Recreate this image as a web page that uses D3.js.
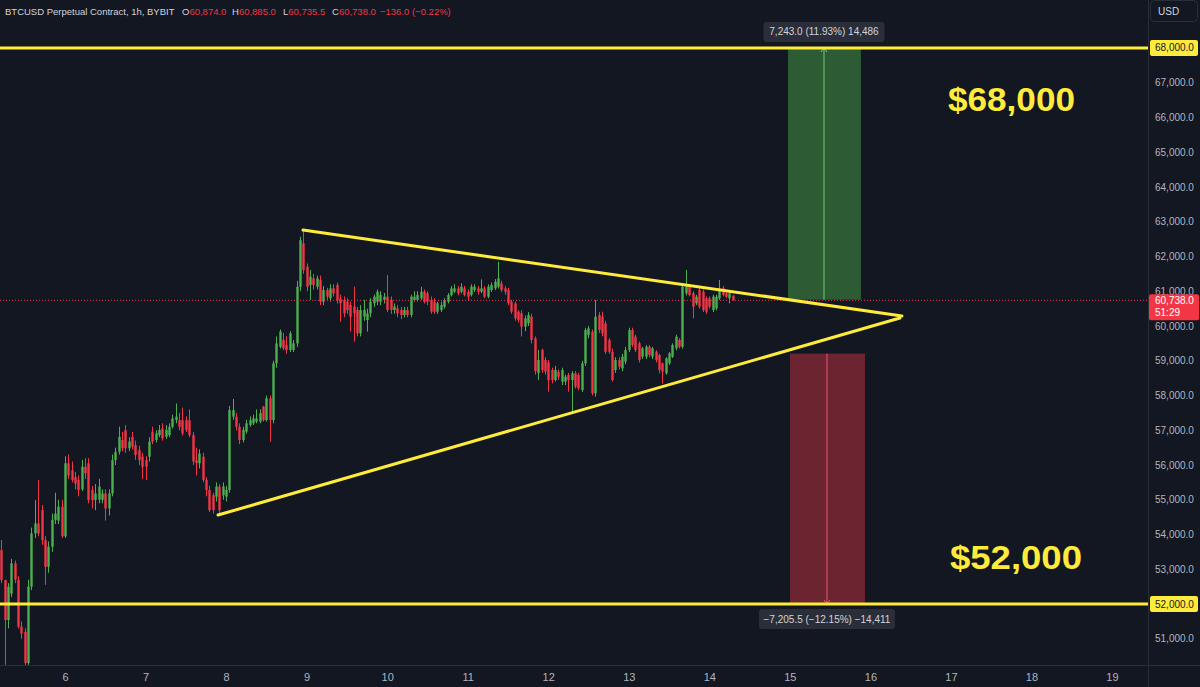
<!DOCTYPE html>
<html><head><meta charset="utf-8">
<script src="https://cdn.jsdelivr.net/npm/d3@7"></script>
<style>html,body{margin:0;padding:0;background:#131722;overflow:hidden}</style>
</head><body><svg id="c" width="1200" height="687"></svg>
<script>
// ---------------- DATA ----------------
const startDay = 5, startHour = 5; // first candle: day 5, 05:00, hourly
const ohlc = [
[53550,53840,52600,52690],[52690,52700,50250,51540],[51540,52600,51300,52500],[52300,53300,52200,53170],
[53170,53250,52600,52700],[52690,52800,51300,51350],[51350,51500,51000,51150],[51200,51300,50250,50300],
[50300,52700,50250,52500],[52500,54200,52400,54030],[54030,54990,53900,54320],[54320,55570,53950,54030],
[54700,54850,53700,53840],[53840,53950,52550,53070],[53070,53800,52900,53650],[53650,54600,53500,54420],
[54420,55200,54300,54600],[54400,55000,54300,54800],[54800,55000,53900,53950],[53950,56250,53900,56050],
[56050,56300,55600,55700],[55850,56100,55500,55570],[55650,55800,55300,55470],[55570,55700,55100,55280],
[55300,56150,55250,55950],[55950,56200,55600,55760],[56050,56200,54900,54990],[55280,55400,54750,54990],
[54990,55450,54700,55180],[55000,55600,54900,55380],[55000,55300,54900,55180],[55180,55300,54400,54750],
[54750,55300,54550,55180],[55180,56300,55100,56140],[56140,56500,56000,56380],[56380,57100,56300,56810],
[56720,56950,56400,56480],[57000,57150,56350,56480],[56480,56800,56400,56670],[56810,56950,56450,56530],
[56570,56700,56150,56290],[56430,56550,56000,56140],[56240,56350,55600,55950],[56140,56250,55570,55950],
[56240,56800,56100,56670],[56960,57100,56600,56670],[56720,57000,56650,56910],[56860,57150,56800,57010],
[57050,57200,56700,56770],[56810,57150,56750,57010],[56860,57200,56800,57100],[57100,57450,57050,57340],
[57290,57770,57200,57390],[57290,57500,57000,57100],[57290,57650,56850,56910],[57290,57400,56950,57010],
[57290,57600,56800,56860],[56860,56950,56000,56100],[56140,56500,55700,56050],[56050,56450,55900,56330],
[56240,56350,55500,55570],[55570,55650,55100,55280],[55280,55400,54650,54700],[55130,55200,54600,54700],
[55090,55500,54950,55380],[55380,55450,54560,54700],[55130,55500,55000,55380],[55090,55400,54950,55280],
[55280,57700,55200,57580],[57390,57900,57300,57580],[57390,57500,57000,57100],[57100,57200,56600,56720],
[56720,57100,56650,57010],[56960,57300,56900,57200],[57150,57400,57100,57290],[57200,57450,57150,57340],
[57250,57600,57200,57340],[57250,57600,57200,57490],[57680,57700,57250,57290],[57290,58000,57250,57920],
[57920,58000,56670,57290],[57290,59000,57200,58925],[58925,59700,58800,59500],[59400,59900,59350,59840],
[59600,59800,59300,59360],[59450,59700,59200,59310],[59310,59850,59250,59790],[59310,59600,59250,59500],
[59500,61300,59400,61130],[61130,62570,61000,62470],[62380,62760,61500,61610],[61707,61800,61000,61131],
[61179,61611,60748,61420],[61371,61500,61050,61179],[61131,61450,61050,61371],[61323,61450,60600,60700],
[60700,61150,60600,61035],[61035,61100,60750,60844],[60796,61200,60700,61083],[61083,61200,60850,60940],
[61179,61250,60650,60748],[60796,60900,60120,60652],[60748,60850,60250,60364],[60700,60800,60350,60460],
[60604,60700,59840,60268],[60556,61131,59550,60364],[60460,60550,59700,59788],[59788,60600,59700,60460],
[60268,60750,60150,60460],[60172,60500,59840,60364],[60364,60800,60250,60700],[60652,60900,60550,60844],
[60700,61050,60600,60987],[60700,61000,60600,60892],[60748,60950,60650,60844],[60844,61467,60400,60460],
[60748,60850,60350,60460],[60460,60650,60350,60556],[60508,60600,60250,60364],[60460,60550,60200,60316],
[60316,60550,60250,60460],[60460,60550,60250,60316],[60316,60900,60250,60844],[60748,61000,60700,60844],
[60748,61000,60700,60892],[60796,61131,60750,60987],[60987,61050,60650,60700],[60940,61000,60600,60700],
[60748,60850,60350,60412],[60700,60800,60350,60412],[60412,60700,60350,60652],[60460,60700,60400,60604],
[60556,60800,60500,60748],[60700,60950,60650,60892],[60892,61150,60850,61083],[60987,61200,60950,61083],
[61083,61150,60880,60940],[60987,61230,60940,61131],[61083,61150,60850,60892],[60987,61050,60750,60844],
[60892,61200,60850,61131],[61035,61200,60980,61131],[61083,61150,60900,60987],[60987,61340,60950,61083],
[61083,61150,60800,60844],[60844,61200,60800,61131],[61035,61250,60980,61179],[61083,61350,61030,61275],
[61131,61850,61080,61371],[61227,61300,60980,61035],[61083,61150,60900,60987],[61035,61100,60600,60652],
[60700,60750,60350,60412],[60652,60700,60150,60220],[60412,60450,60100,60172],[60364,60450,59700,59980],
[59980,60300,59850,60220],[60076,60400,60000,60316],[60268,60350,59500,59597],[59644,59700,58600,58700],
[58650,59309,58450,59021],[59309,59350,58650,58733],[59021,59100,58600,58685],[58950,59021,58109,58445],
[58733,58800,58350,58445],[58445,58850,58400,58733],[58685,58750,58450,58541],[58397,58800,58300,58733],
[58397,58600,58300,58541],[58589,58650,58109,58445],[58445,58700,57534,58637],[58637,58700,58200,58253],
[58589,58650,58150,58205],[58157,59000,58100,58925],[58925,59950,58850,59884],[59740,60000,59650,59932],
[59836,59900,58000,58061],[58061,60747,57965,60268],[60316,60400,59800,59884],[60268,60412,59700,59788],
[60076,60150,59200,59260],[59596,59650,59200,59260],[59260,59350,58400,58445],[58733,59100,58650,59021],
[59021,59100,58750,58829],[58781,59200,58700,59117],[58973,59400,58900,59308],[59308,59950,59250,59884],
[59884,59950,59400,59453],[59693,59750,59250,59309],[59501,59550,58950,59021],[59117,59400,59050,59357],
[59117,59450,59050,59405],[59405,59450,59100,59165],[59117,59400,59050,59357],[59261,59300,58950,59021],
[59165,59200,58637,58733],[58925,58950,58349,58685],[58637,59100,58600,59069],[58925,59250,58880,59213],
[59117,59500,59080,59453],[59357,59750,59300,59693],[59597,59650,59350,59405],[59405,61200,59350,61132],
[60940,61611,60880,61132],[61132,61200,60850,60892],[60940,61000,60220,60556],[60652,60900,60600,60844],
[61036,61100,60500,60556],[60988,61050,60400,60460],[60796,60850,60350,60412],[60796,60850,60500,60556],
[60460,60900,60400,60844],[60508,60900,60450,60844],[60796,61323,60750,61036],[61084,61150,60850,60892],
[60940,61000,60800,60844],[60796,61000,60652,60940],[60874,60885,60735.5,60738]
];
const dayTicks = [6,7,8,9,10,11,12,13,14,15,16,17,18,19];
const priceTicks = [51000,52000,53000,54000,55000,56000,57000,58000,59000,60000,61000,62000,63000,64000,65000,66000,67000,68000];
const levels = [68000, 52000];
const levelTexts = ["$68,000", "$52,000"];
const upperTrend = [[8.955, 62760], [16.392, 60290]];
const lowerTrend = [[7.900, 54560], [16.367, 60230]];
const longZone  = {t0: 14.977, t1: 15.883, pLow: 60757, pHigh: 68000, tMid: 15.424};
const shortZone = {t0: 15.002, t1: 15.933, pLow: 52000, pHigh: 59205.5, tMid: 15.461};
const longText  = "7,243.0 (11.93%) 14,486";
const shortText = "\u22127,205.5 (\u221212.15%) \u221214,411";
const lastPrice = 60738, countdown = "51:29";
const headerTitle = "BTCUSD Perpetual Contract, 1h, BYBIT";
const headerVals = [["O","60,874.0"],["H","60,885.0"],["L","60,735.5"],["C","60,738.0"]];
const headerChange = "\u2212136.0 (\u22120.22%)";

// ---------------- CHART ----------------
const W = 1200, H = 687, PW = 1148, PH = 665;
const UP = "#4caf50", DN = "#f23645", YEL = "#ffeb3b", TXT = "#b2b5be";
const FONT = "'Liberation Sans', Arial, sans-serif";
const svg = d3.select("#c");
svg.append("rect").attr("width", W).attr("height", H).attr("fill", "#131722");

const x = d3.scaleLinear().domain([5.193, 19.447]).range([0, PW]);
const y = d3.scaleLinear().domain([50245, 69381]).range([PH, 0]);
const tOf = i => startDay + (startHour + i) / 24;

svg.append("defs").append("clipPath").attr("id", "clip")
  .append("rect").attr("width", PW).attr("height", PH);
const plot = svg.append("g").attr("clip-path", "url(#clip)");

// candles
const cg = plot.append("g");
const bw = 2.4;
ohlc.forEach((d, i) => {
  const [o, h, l, c] = d;
  const col = c >= o ? UP : DN;
  const cx = Math.round(x(tOf(i))) + 0.5;
  cg.append("line").attr("x1", cx).attr("x2", cx).attr("y1", y(h)).attr("y2", y(l))
    .attr("stroke", col).attr("stroke-width", 1);
  const yt = y(Math.max(o, c)), yb = y(Math.min(o, c));
  cg.append("rect").attr("x", cx - bw / 2).attr("width", bw)
    .attr("y", yt).attr("height", Math.max(1, yb - yt)).attr("fill", col);
});

// last price dotted line
plot.append("line").attr("x1", 0).attr("x2", PW).attr("y1", y(lastPrice)).attr("y2", y(lastPrice))
  .attr("stroke", DN).attr("stroke-width", 1).attr("stroke-dasharray", "1,2");

// position zones
function zone(z, fill, lineCol, up) {
  plot.append("rect").attr("x", x(z.t0)).attr("width", x(z.t1) - x(z.t0))
    .attr("y", y(z.pHigh)).attr("height", y(z.pLow) - y(z.pHigh)).attr("fill", fill);
  const mx = x(z.tMid);
  const yS = up ? y(z.pLow) : y(z.pHigh), yE = up ? y(z.pHigh) : y(z.pLow);
  plot.append("line").attr("x1", mx).attr("x2", mx).attr("y1", yS).attr("y2", yE)
    .attr("stroke", lineCol).attr("stroke-width", 1);
  const d = up ? 1 : -1;
  plot.append("path").attr("d", `M${mx - 3},${yE + 4 * d}L${mx},${yE}L${mx + 3},${yE + 4 * d}`)
    .attr("fill", "none").attr("stroke", lineCol).attr("stroke-width", 1);
}
zone(longZone, "#2c5b34", "#6ccf74", true);
zone(shortZone, "#6b2430", "#f0566a", false);

// horizontal levels
levels.forEach(p => {
  plot.append("line").attr("x1", 0).attr("x2", PW).attr("y1", y(p)).attr("y2", y(p))
    .attr("stroke", YEL).attr("stroke-width", 3);
});
// triangle
const line = d3.line().x(d => x(d[0])).y(d => y(d[1]));
[upperTrend, lowerTrend].forEach(t => {
  plot.append("path").attr("d", line(t)).attr("fill", "none")
    .attr("stroke", YEL).attr("stroke-width", 3).attr("stroke-linecap", "round");
});

// big level texts
levelTexts.forEach((t, i) => {
  const yy = i === 0 ? y(levels[0]) + 63 : y(levels[1]) - 35;
  svg.append("text").attr("x", i === 0 ? 948 : 950).attr("y", yy)
    .attr("textLength", i === 0 ? 127 : 132).attr("lengthAdjust", "spacingAndGlyphs")
    .attr("fill", YEL).attr("font-family", FONT).attr("font-weight", "bold")
    .attr("font-size", 33).text(t);
});

// zone measurement labels
function tag(cx, cy, text, w) {
  const g = svg.append("g");
  g.append("rect").attr("x", cx - w / 2).attr("y", cy - 10).attr("width", w).attr("height", 20)
    .attr("rx", 3).attr("fill", "#2a2e39");
  g.append("text").attr("x", cx).attr("y", cy).attr("dy", "0.35em").attr("text-anchor", "middle")
    .attr("fill", "#d1d4dc").attr("font-family", FONT).attr("font-size", 10).text(text);
}
tag(x(longZone.tMid), y(longZone.pHigh) - 16, longText, 121);
tag(x(shortZone.tMid), y(shortZone.pLow) + 15, shortText, 136);

// axes frame
svg.append("line").attr("x1", PW + 0.5).attr("x2", PW + 0.5).attr("y1", 0).attr("y2", H)
  .attr("stroke", "#2a2e39");
svg.append("line").attr("x1", 0).attr("x2", W).attr("y1", PH + 0.5).attr("y2", PH + 0.5)
  .attr("stroke", "#2a2e39");

// price axis
const ya = svg.append("g").attr("transform", `translate(${PW},0)`)
  .call(d3.axisRight(y).tickValues(priceTicks).tickFormat(d3.format(",.1f")).tickSize(0).tickPadding(7));
ya.select(".domain").remove();
ya.selectAll("text").attr("fill", TXT).attr("font-family", FONT).attr("font-size", 10);

// time axis
const xa = svg.append("g").attr("transform", `translate(0,${PH})`)
  .call(d3.axisBottom(x).tickValues(dayTicks).tickFormat(d3.format("d")).tickSize(0).tickPadding(8));
xa.select(".domain").remove();
xa.selectAll("text").attr("fill", TXT).attr("font-family", FONT).attr("font-size", 11);

// level labels on axis
levels.forEach(p => {
  svg.append("rect").attr("x", PW + 2).attr("y", y(p) - 8).attr("width", 48).attr("height", 16)
    .attr("rx", 2).attr("fill", YEL);
  svg.append("text").attr("x", PW + 7).attr("y", y(p)).attr("dy", "0.35em")
    .attr("fill", "#131722").attr("font-family", FONT).attr("font-size", 10).text(d3.format(",.1f")(p));
});

// last price label
svg.append("rect").attr("x", PW + 1).attr("y", y(lastPrice) - 6).attr("width", 50).attr("height", 26)
  .attr("rx", 2).attr("fill", DN);
svg.append("text").attr("x", PW + 7).attr("y", y(lastPrice) + 4)
  .attr("fill", "#fff").attr("font-family", FONT).attr("font-size", 10).text(d3.format(",.1f")(lastPrice));
svg.append("text").attr("x", PW + 7).attr("y", y(lastPrice) + 16)
  .attr("fill", "#fff").attr("font-family", FONT).attr("font-size", 10).text(countdown);

// USD button
svg.append("rect").attr("x", PW + 2.5).attr("y", 0.5).attr("width", 47).attr("height", 21)
  .attr("rx", 4).attr("fill", "#131722").attr("stroke", "#2a2e39");
svg.append("text").attr("x", PW + 10).attr("y", 15).attr("fill", "#d1d4dc")
  .attr("font-family", FONT).attr("font-size", 10).text("USD");

// header
const hd = svg.append("g").attr("font-family", FONT).attr("font-size", 9.5);
hd.append("text").attr("x", 5).attr("y", 15).attr("fill", "#d1d4dc").text(headerTitle);
const hx = [182, 232, 283, 332];
headerVals.forEach((v, i) => {
  const t = hd.append("text").attr("x", hx[i]).attr("y", 15);
  t.append("tspan").attr("fill", "#d1d4dc").text(v[0]);
  t.append("tspan").attr("fill", DN).text(v[1]);
});
hd.append("text").attr("x", 380).attr("y", 15).attr("fill", DN).text(headerChange);
</script></body></html>
